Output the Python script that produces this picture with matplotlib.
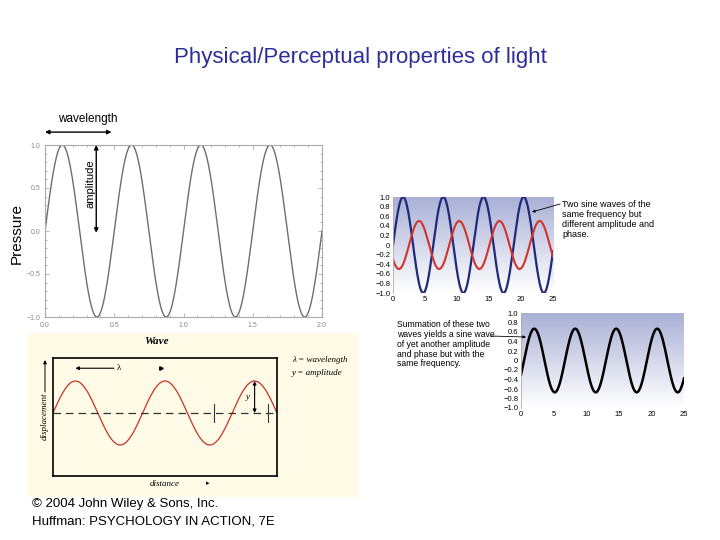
import numpy as np
import matplotlib

matplotlib.use("Agg")
import matplotlib.pyplot as plt
from matplotlib.colors import LinearSegmentedColormap
from matplotlib.patches import Rectangle, FancyArrowPatch

W, H = 720, 540

# --- data ---
# top-left: pressure wave
pressure_period = 0.5
pressure_amp = 1.0
pressure_xticks = [0.0, 0.5, 1.0, 1.5, 2.0]
pressure_yticks = [-1.0, -0.5, 0.0, 0.5, 1.0]

# bottom-left: textbook wave (x in wavelengths)
wave_cycles = 2.5
wave_amp = 1.0
wave_marks = [1.8, 2.4]

# right: two waves and their sum
blue_amp, blue_phase = 1.0, 0.0
red_amp, red_phase = 0.5, 2.5
sine_xticks = [0, 5, 10, 15, 20, 25]
sine_yticks = [1.0, 0.8, 0.6, 0.4, 0.2, 0.0, -0.2, -0.4, -0.6, -0.8, -1.0]

TITLE = "Physical/Perceptual properties of light"
FOOTER = ["\u00a9 2004 John Wiley & Sons, Inc.", "Huffman: PSYCHOLOGY IN ACTION, 7E"]
NOTE_TOP = "Two sine waves of the\nsame frequency but\ndifferent amplitude and\nphase."
NOTE_BOTTOM = ("Summation of these two\nwaves yields a sine wave\nof yet another amplitude\n"
               "and phase but with the\nsame frequency.")

plt.rcParams["font.family"] = ["Liberation Sans", "DejaVu Sans"]
SERIF = ["Liberation Serif", "DejaVu Serif"]
NARROW = ["Liberation Sans Narrow", "Liberation Sans", "DejaVu Sans"]


def fx(x, y):
    return x / W, 1 - y / H


def box(left, top, right, bottom):
    return [left / W, 1 - bottom / H, (right - left) / W, (bottom - top) / H]


def fig_arrow(start, end, scale=5, lw=0.7):
    fig.patches.append(FancyArrowPatch(fx(*start), fx(*end), transform=fig.transFigure,
                                       arrowstyle="-|>", mutation_scale=scale,
                                       color="black", lw=lw, shrinkA=0, shrinkB=0))


fig = plt.figure(figsize=(7.2, 5.4), dpi=100)

fig.text(*fx(360, 58), TITLE, ha="center", va="center", fontsize=16, color="#2e2e9a")

# pale yellow card behind the textbook wave
fig.patches.append(Rectangle(fx(28, 497), 330 / W, 164 / H, transform=fig.transFigure,
                             facecolor="#fffbe6", edgecolor="none", zorder=-10))

# ---------------- top-left ----------------
ax1 = fig.add_axes(box(45, 145, 322, 317))
xp = np.linspace(0, 2, 800)
ax1.plot(xp, pressure_amp * np.sin(2 * np.pi * xp / pressure_period), color="#6e6e6e", lw=1.0)
ax1.set_xlim(0, 2)
ax1.set_ylim(-1, 1)
ax1.set_xticks(pressure_xticks)
ax1.set_yticks(pressure_yticks)
ax1.set_xticklabels([f"{v:.1f}" for v in pressure_xticks])
ax1.set_yticklabels([f"{v:.1f}".replace("-", "\u2212") for v in pressure_yticks])
ax1.minorticks_on()
ax1.tick_params(which="both", direction="in", top=True, right=True, colors="#aaaaaa",
                labelsize=5, labelcolor="#888888", length=3, width=0.6)
ax1.tick_params(which="minor", length=1.5)
for s in ax1.spines.values():
    s.set_color("#aaaaaa")
    s.set_linewidth(0.8)
ax1.annotate("", xy=(0.0, 1.15), xytext=(0.48, 1.15), xycoords="data", annotation_clip=False,
             arrowprops=dict(arrowstyle="<|-|>", color="black", lw=1.0, mutation_scale=6,
                             shrinkA=0, shrinkB=0))
fig.text(*fx(88, 119), "wavelength", ha="center", va="center", fontsize=8.5)
ax1.annotate("", xy=(0.37, 1.0), xytext=(0.37, -0.02), xycoords="data",
             arrowprops=dict(arrowstyle="<|-|>", color="black", lw=1.0, mutation_scale=6,
                             shrinkA=0, shrinkB=0))
ax1.text(0.33, 0.55, "amplitude", rotation=90, ha="center", va="center", fontsize=8)
fig.text(*fx(17, 233), "Pressure", rotation=90, ha="center", va="center", fontsize=11)

# ---------------- bottom-left ----------------
ax2 = fig.add_axes(box(53, 358, 277, 476))
xw = np.linspace(0, wave_cycles, 600)
ax2.plot(xw, wave_amp * np.sin(2 * np.pi * xw), color="#c8322a", lw=0.9)
ax2.axhline(0, color="#333333", lw=0.9, ls=(0, (6, 4)))
ax2.set_xlim(0, wave_cycles)
ax2.set_ylim(-1.97, 1.72)
ax2.set_xticks([])
ax2.set_yticks([])
ax2.set_facecolor("none")
for s in ax2.spines.values():
    s.set_linewidth(1.2)
for m in wave_marks:
    ax2.plot([m, m], [-0.28, 0.28], color="#333333", lw=0.8)
ax2.annotate("", xy=(2.25, 1.0), xytext=(2.25, 0.0),
             arrowprops=dict(arrowstyle="<|-|>", color="black", lw=0.8, mutation_scale=5,
                             shrinkA=0, shrinkB=0))
ax2.text(2.2, 0.5, "y", fontsize=6.5, ha="right", va="center", family=SERIF, style="italic")
ax2.annotate("", xy=(0.25, 1.4), xytext=(0.68, 1.4),
             arrowprops=dict(arrowstyle="-|>", color="black", lw=0.8, mutation_scale=5,
                             shrinkA=0, shrinkB=0))
ax2.text(0.71, 1.4, "\u03bb", fontsize=6.5, ha="left", va="center", family=SERIF)
ax2.plot([1.2], [1.4], marker=">", color="black", ms=2.5)
fig.text(*fx(157, 342), "Wave", ha="center", va="center", fontsize=8, family=SERIF,
         style="italic", weight="bold")
fig.text(*fx(45, 416), "displacement", rotation=90, ha="center", va="center", fontsize=6.5,
         family=SERIF, style="italic")
fig_arrow((45, 392), (45, 360))
fig.text(*fx(165, 484), "distance", ha="center", va="center", fontsize=6.5, family=SERIF,
         style="italic")
fig.text(*fx(208, 484), "\u25b8", ha="center", va="center", fontsize=5)
fig.text(*fx(292, 360), "\u03bb = wavelength", ha="left", va="center", fontsize=6.5,
         family=SERIF, style="italic")
fig.text(*fx(292, 373), "y = amplitude", ha="left", va="center", fontsize=6.5,
         family=SERIF, style="italic")

# ---------------- right panels ----------------
grad_cmap = LinearSegmentedColormap.from_list("bg", ["#ffffff", "#aab1d6"])
xs = np.linspace(0, 25, 1000)
blue = blue_amp * np.sin(xs - blue_phase)
red = red_amp * np.sin(xs - red_phase)


def sine_axes(rect):
    ax = fig.add_axes(rect)
    ax.imshow(np.linspace(0, 1, 64).reshape(-1, 1)[::-1], extent=[0, 25, -1, 1],
              aspect="auto", cmap=grad_cmap, zorder=0, interpolation="bilinear")
    ax.set_xlim(0, 25)
    ax.set_ylim(-1, 1)
    ax.set_xticks(sine_xticks)
    ax.set_yticks(sine_yticks)
    ax.set_yticklabels(["0" if v == 0 else f"{v:.1f}".replace("-", "\u2212") for v in sine_yticks])
    ax.tick_params(labelsize=5.5, length=0, pad=2)
    for s in ax.spines.values():
        s.set_visible(False)
    ax.spines["left"].set_visible(True)
    ax.spines["left"].set_color("#aaaaaa")
    ax.spines["left"].set_linewidth(0.6)
    return ax


ax3 = sine_axes(box(393, 197, 553, 293))
ax3.plot(xs, blue, color="#1f2a7a", lw=1.6)
ax3.plot(xs, red, color="#d0342c", lw=1.5)
fig.text(*fx(562, 200), NOTE_TOP, ha="left", va="top", fontsize=6.5, family=NARROW,
         linespacing=1.15)
fig_arrow((560, 204), (532, 212), scale=4, lw=0.6)

ax4 = sine_axes(box(521, 313, 684, 408))
ax4.plot(xs, blue + red, color="black", lw=1.8)
fig.text(*fx(397, 320), NOTE_BOTTOM, ha="left", va="top", fontsize=6.2, family=NARROW,
         linespacing=1.12)
fig_arrow((490, 336), (526, 337), scale=4, lw=0.6)

# footer
fig.text(*fx(32, 504), FOOTER[0], ha="left", va="center", fontsize=9.5)
fig.text(*fx(32, 521), FOOTER[1], ha="left", va="center", fontsize=9.5)

fig.savefig("out.png", dpi=100)
